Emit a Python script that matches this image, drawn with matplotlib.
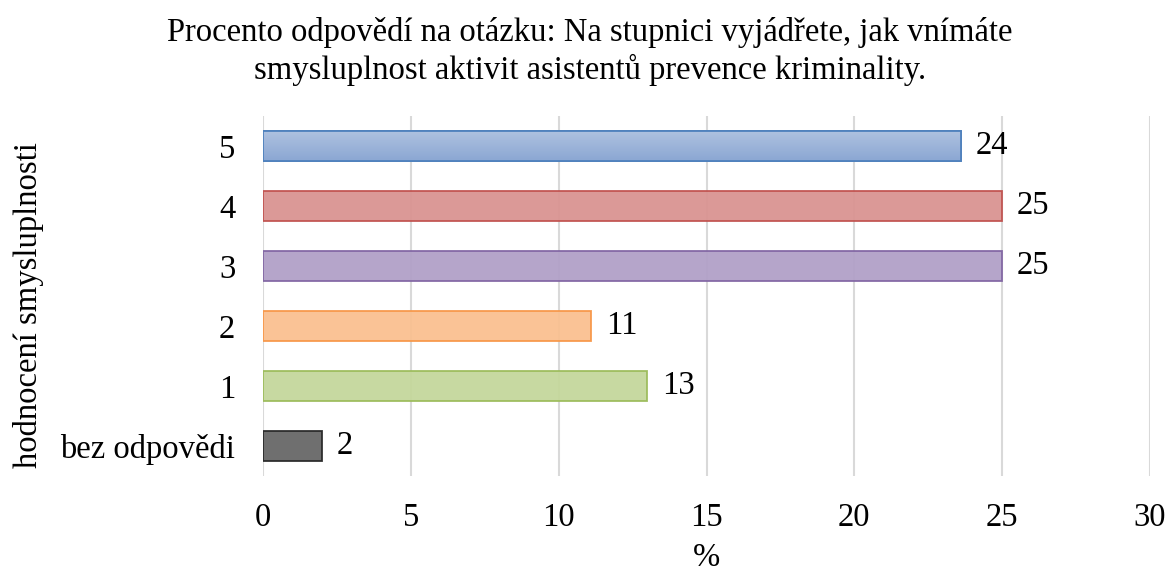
import matplotlib.pyplot as plt
import numpy as np
from matplotlib.colors import LinearSegmentedColormap

# hodnoceni smysluplnosti (procenta)
categories = ['bez odpovědi', '1', '2', '3', '4', '5']
values = [2, 13, 11.1, 25, 25, 23.6]
labels = ['2', '13', '11', '25', '25', '24']
fills = ['#666666', '#C4D79B', '#FAC090', '#B1A0C7', '#D99391', '#95AFD8']
edges = ['#262626', '#9BBB59', '#F79646', '#8064A2', '#C0504D', '#4F81BD']

plt.rcParams['font.family'] = ['Liberation Serif', 'DejaVu Serif']
fs = 23.5

fig = plt.figure(figsize=(11.68, 5.72), dpi=100)
ax = fig.add_axes([0.2252, 0.1678, 0.7594, 0.6294])

y = np.arange(len(categories))
bars = ax.barh(y, values, height=0.5, color=fills, edgecolor=edges, linewidth=1.3,
               alpha=0.94, zorder=2)

# gradient for the top bar
top = bars[-1]
grad = np.linspace(0, 1, 50).reshape(-1, 1)
cmap = LinearSegmentedColormap.from_list('b', ['#8BA7D3', '#AFC2E0'])
x0, y0 = top.get_x(), top.get_y()
im = ax.imshow(grad, cmap=cmap, aspect='auto', origin='lower',
               extent=[x0, x0 + top.get_width(), y0, y0 + top.get_height()], zorder=2.5)
im.set_clip_path(top)
ax.barh(y[-1], values[-1], height=0.5, color='none', edgecolor=edges[-1], linewidth=1.3, zorder=3)

for yi, v, t in zip(y, values, labels):
    ax.text(v + 0.5, yi, t, va='center', ha='left', fontsize=fs)

ax.set_xlim(0, 30)
ax.set_ylim(-0.5, len(categories) - 0.5)
ax.set_xticks(range(0, 31, 5))
ax.set_yticks(y)
ax.set_yticklabels(categories)
ax.tick_params(axis='both', length=0, labelsize=fs)
ax.tick_params(axis='y', pad=20)
ax.tick_params(axis='x', pad=19)
ax.grid(axis='x', color='#D9D9D9', linewidth=1.5, zorder=1)
ax.set_axisbelow(True)
for s in ax.spines.values():
    s.set_visible(False)

ax.set_xlabel('%', fontsize=fs, labelpad=7)
fig.text(0.024, 0.467, 'hodnocení smysluplnosti', rotation=90, fontsize=fs,
         va='center', ha='center')
fig.text(0.505, 0.91, 'Procento odpovědí na otázku: Na stupnici vyjádřete, jak vnímáte\n'
         'smysluplnost aktivit asistentů prevence kriminality.', fontsize=fs,
         ha='center', va='center', linespacing=1.25)

fig.savefig('out.png', dpi=100)
